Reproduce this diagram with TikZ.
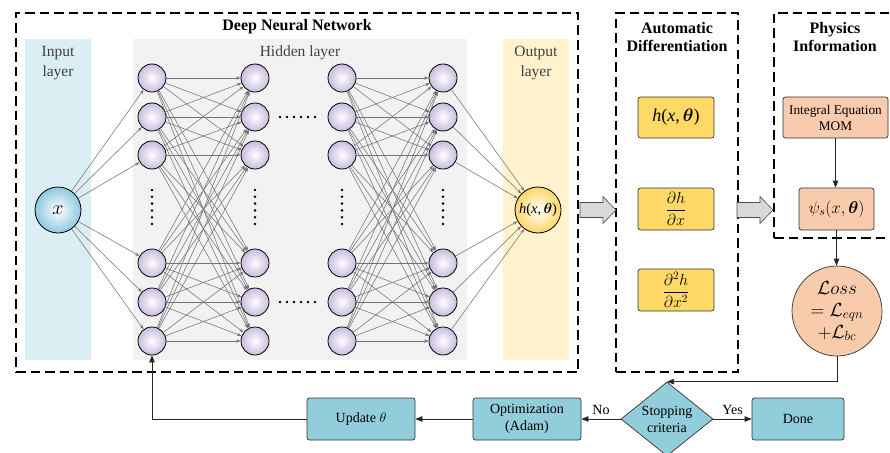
\RequirePackage{fix-cm}
\documentclass[tikz,border=0pt]{standalone}
\usepackage{amsmath,bm}
\usepackage{fontspec}
\setmainfont{Liberation Serif}
\usetikzlibrary{arrows.meta,shapes.geometric,calc}

\definecolor{inbg}{RGB}{218,238,243}
\definecolor{hidbg}{RGB}{242,242,242}
\definecolor{outbg}{RGB}{255,242,204}
\definecolor{neuronc}{RGB}{200,188,222}
\definecolor{inball}{RGB}{140,200,225}
\definecolor{outball}{RGB}{252,213,105}
\definecolor{gold}{RGB}{255,217,102}
\definecolor{salmon}{RGB}{248,203,173}
\definecolor{flowblue}{RGB}{146,205,220}
\definecolor{labelgray}{RGB}{64,64,64}
\definecolor{arrowgray}{RGB}{217,217,217}

% network output written with text italics
\newcommand{\hxt}{\textit{h}(\textit{x},\,$\boldsymbol{\theta}$)}

\tikzset{
  neuron/.style={circle, draw=black, line width=0.8pt, minimum size=28pt, inner sep=0pt,
    inner color=white, outer color=neuronc},
  link/.style={draw=black!55, line width=0.55pt, -{Stealth[length=4.5pt,width=3.2pt]}},
  frame/.style={dash pattern=on 9.5pt off 5pt, line width=1.6pt},
  layerlabel/.style={text=labelgray, font=\fontsize{15.5}{20}\selectfont, align=center},
  framelabel/.style={font=\bfseries\fontsize{16}{18}\selectfont, align=center},
  box/.style={draw=black!80, rounded corners=2.5pt, line width=0.7pt, inner sep=0pt,
    align=center, font=\fontsize{14}{17}\selectfont},
  flow/.style={draw=black!85, line width=0.7pt, -{Triangle[length=7pt,width=5.5pt]}},
  bigarrow/.style={fill=arrowgray, draw=black!70, line width=0.6pt},
  vdots/.style={fill=black},
}

\begin{document}
\begin{tikzpicture}[x=1pt,y=-1pt]
\useasboundingbox (0,0) rectangle (890,452);

% ---------------- Deep neural network ----------------
\node[frame, draw, minimum width=562pt, minimum height=359pt, inner sep=0pt] (dnn) at (297,192.5) {};
\node[framelabel] (dnnlabel) at (297,27) {Deep Neural Network};

\fill[inbg]  (25,39)  rectangle (91,360);
\fill[hidbg] (133,39) rectangle (467,360);
\fill[outbg] (503,39) rectangle (569,360);

\node[layerlabel] (inlabel)  at (58,63)  {Input\\layer};
\node[layerlabel] (hidlabel) at (300,53) {Hidden layer};
\node[layerlabel] (outlabel) at (536,63) {Output\\layer};

% neurons
\node[circle, draw=black, line width=0.8pt, minimum size=46pt, inner sep=0pt,
      inner color=white, outer color=inball, font=\fontsize{20}{20}\selectfont] (in) at (58,210) {$x$};
\node[circle, draw=black, line width=0.8pt, minimum size=46pt, inner sep=0pt,
      inner color=white, outer color=outball, font=\fontsize{14.5}{14.5}\selectfont] (out) at (538,210) {\hxt};

\foreach \c/\x in {1/152,2/255,3/342,4/443}
  \foreach \r/\y in {1/78,2/117,3/155,4/263,5/302,6/341}
    \node[neuron] (n\c\r) at (\x,\y) {};

% fully connected links
\foreach \r in {1,...,6} \draw[link] (in) -- (n1\r);
\foreach \a in {1,...,6}
  \foreach \b in {1,...,6} {
    \draw[link] (n1\a) -- (n2\b);
    \draw[link] (n3\a) -- (n4\b);
  }
\foreach \r in {1,...,6} \draw[link] (n4\r) -- (out);

% ellipses standing for omitted neurons and layers
\foreach \x in {152,255,342,443}
  \foreach \k in {0,...,5}
    \fill[vdots] (\x,190+6.8*\k) circle (1.4pt);
\foreach \y in {117,302}
  \foreach \k in {0,...,5}
    \fill[vdots] (280+7*\k,\y) circle (1.4pt);

% ---------------- Automatic differentiation ----------------
\node[frame, draw, minimum width=122pt, minimum height=359pt, inner sep=0pt] (ad) at (677,192.5) {};
\node[framelabel] (adlabel) at (677,37) {Automatic\\Differentiation};
\node[box, fill=gold, minimum width=76pt, minimum height=41pt, font=\fontsize{18}{18}\selectfont] (h0) at (676,117.5) {\hxt};
\node[box, fill=gold, minimum width=76pt, minimum height=42pt, font=\fontsize{16}{16}\selectfont] (h1) at (676,209) {$\dfrac{\partial h}{\partial x}$};
\node[box, fill=gold, minimum width=76pt, minimum height=42pt, font=\fontsize{16}{16}\selectfont] (h2) at (676,290) {$\dfrac{\partial^2 h}{\partial x^2}$};

% ---------------- Physics information ----------------
\node[frame, draw, minimum width=119pt, minimum height=225pt, inner sep=0pt] (pi) at (833.5,125.5) {};
\node[framelabel] (pilabel) at (835,37) {Physics\\Information};
\node[box, fill=salmon, minimum width=105pt, minimum height=41pt, font=\fontsize{13.3}{16}\selectfont] (ie) at (835.5,117.5) {Integral Equation\\MOM};
\node[box, fill=salmon, minimum width=75pt, minimum height=42pt, font=\fontsize{17}{17}\selectfont] (psi) at (836.5,209) {$\psi_s(x,\boldsymbol{\theta})$};

\node[circle, draw=black!80, line width=0.7pt, fill=salmon, minimum size=90pt, inner sep=0pt,
      align=center, font=\fontsize{19}{22}\selectfont] (loss) at (837,311)
      {$\mathcal{L}oss$\\$=\mathcal{L}_{eqn}$\\$+\mathcal{L}_{bc}$};

% block arrows between the stages
\draw[bigarrow] (580,202.5) -- (603,202.5) -- (603,196.5) -- (616,210) -- (603,223.5) -- (603,217.5) -- (580,217.5) -- cycle;
\draw[bigarrow] (737,202.5) -- (760,202.5) -- (760,196.5) -- (773,210) -- (760,223.5) -- (760,217.5) -- (737,217.5) -- cycle;

% ---------------- Training loop ----------------
\node[diamond, draw=black!80, line width=0.7pt, fill=flowblue, aspect=1.24, inner sep=0pt,
      minimum width=92pt, minimum height=74pt, align=center,
      font=\fontsize{14}{17}\selectfont] (stop) at (667,419) {Stopping\\criteria};
\node[box, fill=flowblue, minimum width=92pt,  minimum height=42pt] (done) at (798,419) {Done};
\node[box, fill=flowblue, minimum width=108pt, minimum height=42pt] (opt)  at (527,419) {Optimization\\(Adam)};
\node[box, fill=flowblue, minimum width=108pt, minimum height=42pt] (upd)  at (361,419) {Update $\theta$};

\draw[flow] (ie.south) -- (ie.south |- psi.north);
\draw[flow] (psi.south) -- (psi.south |- loss.north);
\draw[flow] (loss.south) |- (stop.north);
\draw[flow] (stop.east) -- node[above=1pt, font=\fontsize{14}{14}\selectfont] (yes) {Yes} (done.west);
\draw[flow] (stop.west) -- node[above=1pt, font=\fontsize{14}{14}\selectfont] (no) {No} (opt.east);
\draw[flow] (opt.west) -- (upd.east);
\draw[flow] (upd.west) -| (n16.south);

\end{tikzpicture}
\end{document}
